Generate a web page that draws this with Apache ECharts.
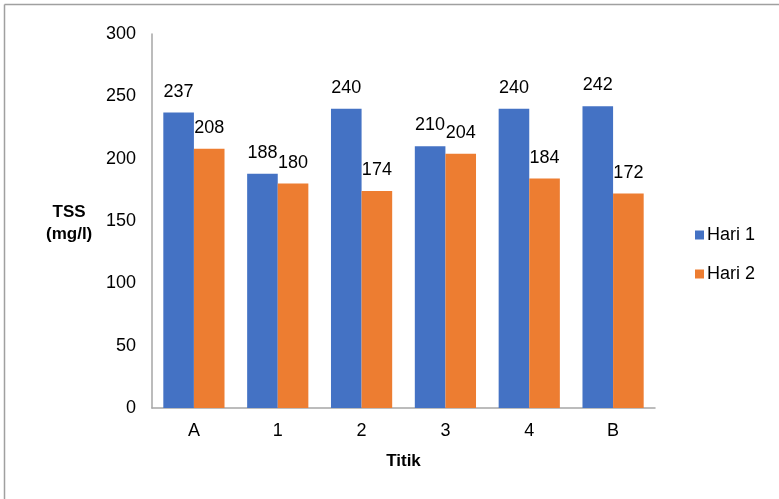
<!DOCTYPE html>
<html>
<head>
<meta charset="utf-8">
<script src="https://cdn.jsdelivr.net/npm/echarts@6/dist/echarts.min.js"></script>
<style>html,body{margin:0;padding:0;background:#fff}#c{width:779px;height:499px}</style>
</head>
<body>
<div id="c"></div>
<script>
const categories = ['A', '1', '2', '3', '4', 'B'];
const hari1 = [237, 188, 240, 210, 240, 242];
const hari2 = [208, 180, 174, 204, 184, 172];
const seriesNames = ['Hari 1', 'Hari 2'];
const yTicks = [0, 50, 100, 150, 200, 250, 300];

const chart = echarts.init(document.getElementById('c'));
const font = 'Arial, "Liberation Sans", sans-serif';
const labelStyle = {show: true, position: 'top', distance: 12, fontSize: 18, color: '#000', fontFamily: font};
chart.setOption({
  animation: false,
  backgroundColor: '#fff',
  graphic: [
    {type: 'line', shape: {x1: 4.5, y1: 4.5, x2: 779, y2: 4.5}, style: {stroke: '#a0a0a0', lineWidth: 1.5}},
    {type: 'line', shape: {x1: 4.5, y1: 4.5, x2: 4.5, y2: 499}, style: {stroke: '#a0a0a0', lineWidth: 1.5}},
    {type: 'text', left: 46, top: 201, style: {text: 'TSS\n(mg/l)', font: 'bold 17px ' + font, fill: '#000', textAlign: 'center', lineHeight: 22}}
  ],
  grid: {left: 152, right: 124, top: 34, bottom: 91},
  legend: {
    orient: 'vertical', left: 690, top: 221, itemWidth: 9, itemHeight: 9, itemGap: 21, icon: 'rect',
    textStyle: {fontSize: 18, color: '#000', fontFamily: font, padding: [0, 0, 0, -2]},
    data: seriesNames
  },
  xAxis: {
    type: 'category', data: categories,
    name: 'Titik', nameLocation: 'middle', nameGap: 45,
    nameTextStyle: {fontSize: 17, fontWeight: 'bold', color: '#000', fontFamily: font},
    axisLine: {lineStyle: {color: '#a6a6a6', width: 1.5}},
    axisTick: {show: false},
    axisLabel: {fontSize: 18, color: '#000', fontFamily: font, margin: 14}
  },
  yAxis: {
    type: 'value', min: yTicks[0], max: yTicks[yTicks.length - 1], interval: 50,
    axisLine: {show: true, lineStyle: {color: '#a6a6a6', width: 1.5}},
    axisTick: {show: false},
    splitLine: {show: false},
    axisLabel: {fontSize: 18, color: '#000', fontFamily: font, margin: 16}
  },
  series: [
    {name: seriesNames[0], type: 'bar', data: hari1, itemStyle: {color: '#4472C4'}, barGap: '0%', barCategoryGap: '27%', label: labelStyle},
    {name: seriesNames[1], type: 'bar', data: hari2, itemStyle: {color: '#ED7D31'}, barGap: '0%', barCategoryGap: '27%', label: labelStyle}
  ]
});
</script>
</body>
</html>
